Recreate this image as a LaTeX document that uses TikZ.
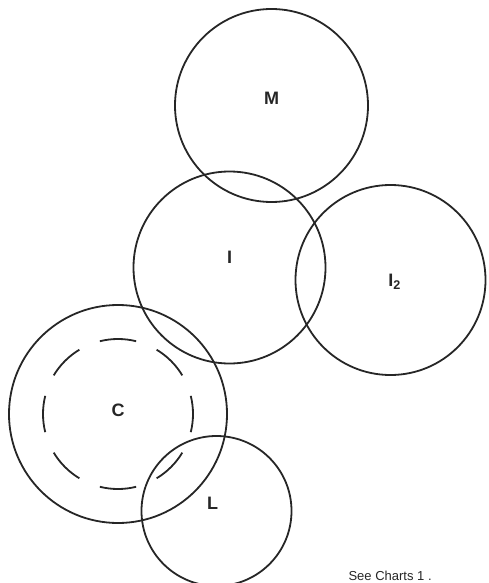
\documentclass[tikz,border=0pt]{standalone}
\usepackage{fontspec}
\setmainfont{Liberation Sans}
\usetikzlibrary{calc}
\begin{document}
\begin{tikzpicture}[x=1pt,y=-1pt,
  ring/.style={draw=black!85,line width=1.8pt,circle,inner sep=0pt},
  lbl/.style={font=\fontsize{18}{18}\selectfont\bfseries,text=black!85},
  note/.style={font=\fontsize{13}{13}\selectfont,text=black!85,anchor=base west}]
\useasboundingbox (0,0) rectangle (488,583);
\clip (0,0) rectangle (488,583);
\node[ring,minimum size=193pt] (M) at (271.5,105.5) {};
\node[ring,minimum size=192pt] (I) at (229.5,267.5) {};
\node[ring,minimum size=190pt] (I2) at (390.5,280) {};
\node[ring,minimum size=218pt] (C) at (118,414) {};
\node[ring,minimum size=150pt] (L) at (216.5,511) {};
\foreach \a in {0,45,...,315}
  \draw[draw=black!85,line width=1.8pt] ($(C.center)+(\a-14:75)$) arc[start angle=\a-14,end angle=\a+14,radius=75];
\node[lbl] (tM) at (M.center) [yshift=7pt] {M};
\node[lbl] (tI) at (I.center) [yshift=10pt] {I};
\node[lbl] (tI2) at (I2.center) [xshift=4pt,yshift=-2pt] {I\textsubscript{2}};
\node[lbl] (tC) at (C.center) [yshift=4pt] {C};
\node[lbl] (tL) at (L.center) [xshift=-4pt,yshift=8pt] {L};
\node[note] (ch) at (345,580) {See Charts 1 .};
\end{tikzpicture}
\end{document}
